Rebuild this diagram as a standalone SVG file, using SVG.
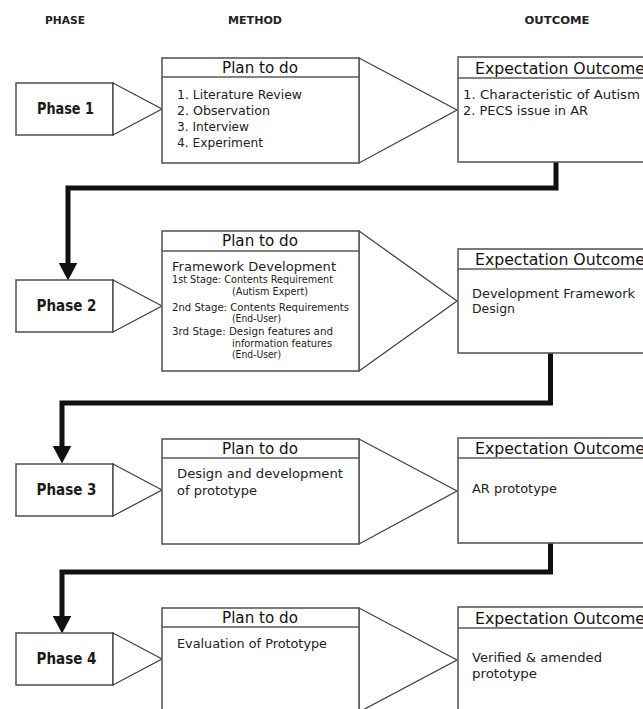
<svg xmlns="http://www.w3.org/2000/svg" width="643" height="709" viewBox="0 0 643 709">
<defs>
<style>
.bx{fill:#fff;stroke:#5a5a5a;stroke-width:1.6}
.ln{fill:none;stroke:#5a5a5a;stroke-width:1.6}
.tri{fill:#fff;stroke:#444;stroke-width:1.3}
.hd{font-family:"DejaVu Sans",sans-serif;font-weight:bold;font-size:10px;fill:#222;text-anchor:middle}
.ph{font-family:"DejaVu Sans",sans-serif;font-weight:bold;font-size:15.5px;fill:#1a1a1a;text-anchor:middle}
.tt{font-family:"DejaVu Sans",sans-serif;font-size:15px;fill:#111}
.tx{font-family:"DejaVu Sans",sans-serif;font-size:12.5px;fill:#222}
.sm{font-family:"DejaVu Sans",sans-serif;font-size:10px;fill:#222}
.cn{fill:none;stroke:#111;stroke-width:5;stroke-linejoin:miter}
</style>
<marker id="ah" markerUnits="userSpaceOnUse" markerWidth="18" markerHeight="19" viewBox="0 0 17 18" refX="7" refY="9" orient="auto">
<path d="M0,0 L17,9 L0,18 Z" fill="#111"/>
</marker>
</defs>
<rect width="643" height="709" fill="#fff"/>

<g id="headers">
<text class="hd" x="65" y="24" textLength="40" lengthAdjust="spacingAndGlyphs">PHASE</text>
<text class="hd" x="255" y="24" textLength="54" lengthAdjust="spacingAndGlyphs">METHOD</text>
<text class="hd" x="557" y="24" textLength="65" lengthAdjust="spacingAndGlyphs">OUTCOME</text>
</g>

<g id="connectors">
<path class="cn" d="M556,162 V188 H68 V270" marker-end="url(#ah)"/>
<path class="cn" d="M550.5,353 V403 H62 V453" marker-end="url(#ah)"/>
<path class="cn" d="M550.5,543 V572 H62 V623" marker-end="url(#ah)"/>
</g>

<!-- Row 1 -->
<g id="phase1">
<rect class="bx" x="16" y="83" width="97" height="52"/>
<polygon class="tri" points="113,83 162,109 113,135"/>
<text class="ph" x="65.5" y="114" textLength="57" lengthAdjust="spacingAndGlyphs">Phase 1</text>
</g>
<g id="plan1">
<polygon class="tri" points="359,58 457,110 359,163"/>
<rect class="bx" x="162" y="58" width="197" height="105"/>
<line class="ln" x1="162" y1="77" x2="359" y2="77"/>
<text class="tt" x="260" y="73" text-anchor="middle" textLength="76" lengthAdjust="spacingAndGlyphs">Plan to do</text>
<text class="tx" x="177" y="99" textLength="125" lengthAdjust="spacingAndGlyphs">1. Literature Review</text>
<text class="tx" x="177" y="115" textLength="93" lengthAdjust="spacingAndGlyphs">2. Observation</text>
<text class="tx" x="177" y="131" textLength="72" lengthAdjust="spacingAndGlyphs">3. Interview</text>
<text class="tx" x="177" y="147" textLength="86" lengthAdjust="spacingAndGlyphs">4. Experiment</text>
</g>
<g id="outcome1">
<rect class="bx" x="458" y="57" width="250" height="105"/>
<line class="ln" x1="458" y1="78" x2="643" y2="78"/>
<text class="tt" x="475" y="74" textLength="170" lengthAdjust="spacingAndGlyphs">Expectation Outcome</text>
<text class="tx" x="463" y="99" textLength="177" lengthAdjust="spacingAndGlyphs">1. Characteristic of Autism</text>
<text class="tx" x="463" y="115" textLength="125" lengthAdjust="spacingAndGlyphs">2. PECS issue in AR</text>
</g>

<!-- Row 2 -->
<g id="phase2">
<rect class="bx" x="16" y="280" width="97" height="52"/>
<polygon class="tri" points="113,280 162,306 113,332"/>
<text class="ph" x="66.5" y="311" textLength="60" lengthAdjust="spacingAndGlyphs">Phase 2</text>
</g>
<g id="plan2">
<polygon class="tri" points="359,231 457,301 359,371"/>
<rect class="bx" x="162" y="231" width="197" height="140"/>
<line class="ln" x1="162" y1="251" x2="359" y2="251"/>
<text class="tt" x="260" y="246" text-anchor="middle" textLength="76" lengthAdjust="spacingAndGlyphs">Plan to do</text>
<text class="tx" x="172" y="271" textLength="164" lengthAdjust="spacingAndGlyphs">Framework Development</text>
<text class="sm" x="172" y="283" textLength="161" lengthAdjust="spacingAndGlyphs">1st Stage: Contents Requirement</text>
<text class="sm" x="232" y="295" textLength="76" lengthAdjust="spacingAndGlyphs">(Autism Expert)</text>
<text class="sm" x="172" y="311" textLength="177" lengthAdjust="spacingAndGlyphs">2nd Stage: Contents Requirements</text>
<text class="sm" x="232" y="322" textLength="49" lengthAdjust="spacingAndGlyphs">(End-User)</text>
<text class="sm" x="172" y="335" textLength="161" lengthAdjust="spacingAndGlyphs">3rd Stage: Design features and</text>
<text class="sm" x="232" y="347" textLength="100" lengthAdjust="spacingAndGlyphs">information features</text>
<text class="sm" x="232" y="358" textLength="49" lengthAdjust="spacingAndGlyphs">(End-User)</text>
</g>
<g id="outcome2">
<rect class="bx" x="458" y="249" width="250" height="104"/>
<line class="ln" x1="458" y1="269" x2="643" y2="269"/>
<text class="tt" x="475" y="265" textLength="170" lengthAdjust="spacingAndGlyphs">Expectation Outcome</text>
<text class="tx" x="472" y="298" textLength="163" lengthAdjust="spacingAndGlyphs">Development Framework</text>
<text class="tx" x="472" y="313" textLength="43" lengthAdjust="spacingAndGlyphs">Design</text>
</g>

<!-- Row 3 -->
<g id="phase3">
<rect class="bx" x="16" y="464" width="97" height="52"/>
<polygon class="tri" points="113,464 162,490 113,516"/>
<text class="ph" x="66.5" y="495" textLength="60" lengthAdjust="spacingAndGlyphs">Phase 3</text>
</g>
<g id="plan3">
<polygon class="tri" points="359,439 457,491 359,544"/>
<rect class="bx" x="162" y="439" width="197" height="105"/>
<line class="ln" x1="162" y1="458" x2="359" y2="458"/>
<text class="tt" x="260" y="454" text-anchor="middle" textLength="76" lengthAdjust="spacingAndGlyphs">Plan to do</text>
<text class="tx" x="177" y="478" textLength="166" lengthAdjust="spacingAndGlyphs">Design and development</text>
<text class="tx" x="177" y="495" textLength="80" lengthAdjust="spacingAndGlyphs">of prototype</text>
</g>
<g id="outcome3">
<rect class="bx" x="458" y="438" width="250" height="105"/>
<line class="ln" x1="458" y1="458" x2="643" y2="458"/>
<text class="tt" x="475" y="454" textLength="170" lengthAdjust="spacingAndGlyphs">Expectation Outcome</text>
<text class="tx" x="472" y="493" textLength="85" lengthAdjust="spacingAndGlyphs">AR prototype</text>
</g>

<!-- Row 4 -->
<g id="phase4">
<rect class="bx" x="16" y="633" width="97" height="52"/>
<polygon class="tri" points="113,633 162,659 113,685"/>
<text class="ph" x="66.5" y="664" textLength="60" lengthAdjust="spacingAndGlyphs">Phase 4</text>
</g>
<g id="plan4">
<polygon class="tri" points="359,608 457,660 359,712"/>
<rect class="bx" x="162" y="608" width="197" height="130"/>
<line class="ln" x1="162" y1="627" x2="359" y2="627"/>
<text class="tt" x="260" y="623" text-anchor="middle" textLength="76" lengthAdjust="spacingAndGlyphs">Plan to do</text>
<text class="tx" x="177" y="648" textLength="150" lengthAdjust="spacingAndGlyphs">Evaluation of Prototype</text>
</g>
<g id="outcome4">
<rect class="bx" x="458" y="607" width="250" height="130"/>
<line class="ln" x1="458" y1="628" x2="643" y2="628"/>
<text class="tt" x="475" y="624" textLength="170" lengthAdjust="spacingAndGlyphs">Expectation Outcome</text>
<text class="tx" x="472" y="662" textLength="130" lengthAdjust="spacingAndGlyphs">Verified &amp; amended</text>
<text class="tx" x="472" y="678" textLength="65" lengthAdjust="spacingAndGlyphs">prototype</text>
</g>
</svg>
